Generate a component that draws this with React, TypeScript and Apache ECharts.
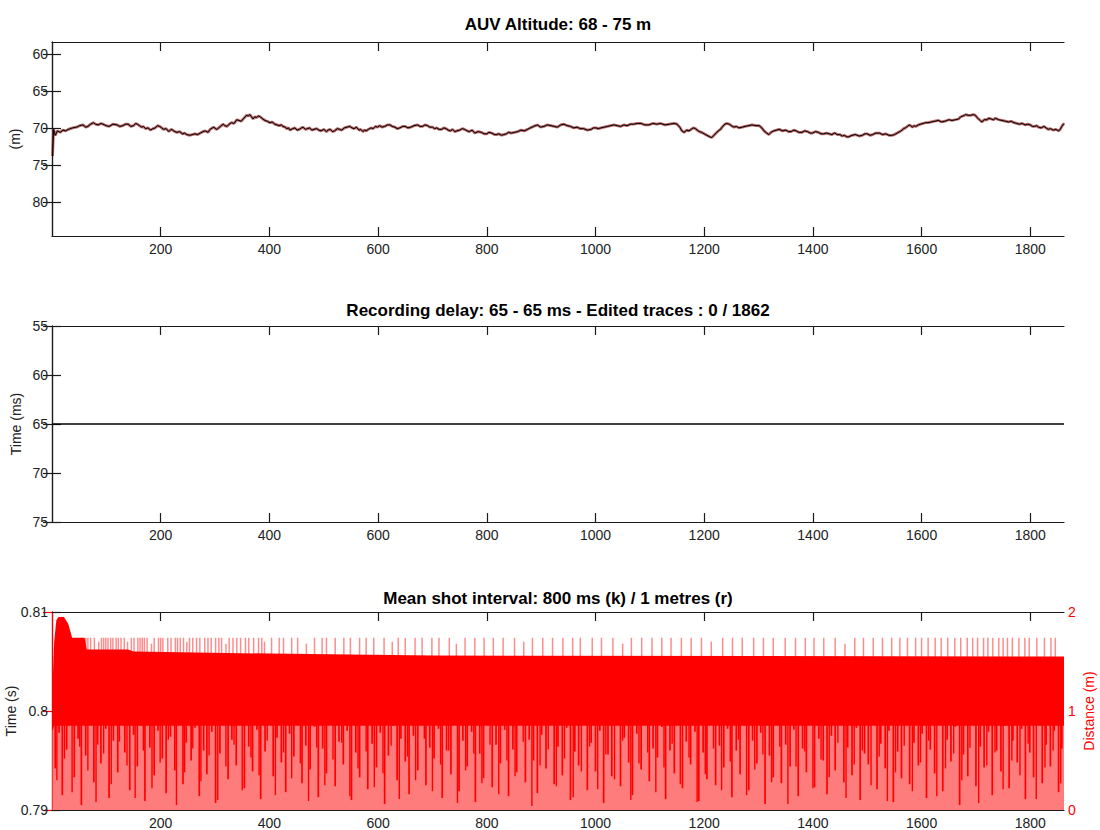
import React, { useEffect, useRef } from "react";
import * as echarts from "echarts";

// ---------- data ----------
const titles = [
  "AUV Altitude: 68 - 75 m",
  "Recording delay: 65 - 65 ms - Edited traces : 0 / 1862",
  "Mean shot interval: 800 ms (k) / 1 metres (r)",
];
const xTicks = [200, 400, 600, 800, 1000, 1200, 1400, 1600, 1800];
const altTicks = [60, 65, 70, 75, 80];
const delayTicks = [55, 60, 65, 70, 75];
const timeTicks = [0.79, 0.8, 0.81];
const distTicks = [0, 1, 2];

// AUV altitude (m) against trace number
const altX = [1, 3, 6, 10, 15, 20, 25, 30, 38, 45, 51, 57, 62, 66, 71, 76, 80, 85, 90, 94, 100, 105, 112, 120, 125, 130, 135, 140, 145, 150, 154, 157, 161, 165, 168, 172, 177, 181, 186, 190, 194, 198, 202, 205, 210, 215, 219, 222, 226, 230, 235, 240, 244, 248, 254, 258, 263, 268, 273, 278, 282, 287, 291, 295, 298, 302, 305, 310, 315, 318, 322, 326, 330, 335, 340, 344, 348, 353, 358, 361, 364, 367, 370, 373, 376, 380, 383, 388, 392, 396, 401, 405, 410, 414, 418, 422, 425, 429, 432, 435, 438, 443, 447, 451, 455, 459, 462, 466, 470, 474, 478, 482, 487, 491, 495, 500, 505, 508, 512, 516, 520, 525, 529, 533, 538, 543, 548, 552, 556, 560, 565, 568, 572, 575, 578, 582, 587, 591, 595, 599, 603, 607, 612, 617, 622, 626, 631, 635, 640, 645, 650, 655, 660, 666, 673, 677, 682, 686, 691, 695, 700, 704, 708, 712, 717, 721, 725, 729, 733, 737, 741, 745, 750, 755, 759, 764, 768, 773, 778, 784, 790, 795, 800, 804, 809, 814, 818, 822, 827, 831, 836, 840, 845, 851, 857, 863, 869, 875, 880, 886, 893, 899, 905, 911, 918, 924, 930, 936, 942, 948, 954, 960, 966, 972, 978, 985, 992, 996, 1001, 1005, 1010, 1016, 1022, 1028, 1034, 1040, 1046, 1052, 1058, 1064, 1070, 1077, 1084, 1091, 1098, 1105, 1113, 1120, 1128, 1136, 1145, 1150, 1155, 1159, 1163, 1168, 1172, 1176, 1180, 1184, 1187, 1191, 1195, 1200, 1205, 1210, 1214, 1218, 1222, 1226, 1230, 1234, 1238, 1242, 1246, 1250, 1255, 1259, 1264, 1270, 1275, 1282, 1288, 1295, 1301, 1306, 1310, 1315, 1319, 1323, 1328, 1333, 1338, 1344, 1350, 1355, 1360, 1365, 1369, 1374, 1380, 1385, 1390, 1395, 1399, 1405, 1410, 1415, 1420, 1425, 1430, 1435, 1440, 1445, 1450, 1454, 1458, 1462, 1466, 1472, 1478, 1485, 1491, 1496, 1500, 1505, 1510, 1516, 1522, 1528, 1534, 1540, 1546, 1550, 1555, 1560, 1564, 1567, 1570, 1574, 1577, 1580, 1583, 1586, 1589, 1594, 1598, 1603, 1607, 1612, 1618, 1624, 1631, 1637, 1643, 1650, 1656, 1662, 1668, 1672, 1676, 1679, 1681, 1686, 1690, 1695, 1699, 1702, 1705, 1708, 1711, 1715, 1720, 1724, 1728, 1732, 1736, 1742, 1748, 1754, 1760, 1765, 1770, 1775, 1780, 1785, 1791, 1795, 1800, 1804, 1808, 1812, 1815, 1820, 1825, 1829, 1833, 1837, 1842, 1847, 1852, 1855, 1858, 1862];
const altY = [73.8, 70.2, 71.0, 70.4, 70.6, 70.3, 70.4, 70.2, 70.0, 69.9, 69.7, 69.6, 69.9, 69.8, 69.5, 69.3, 69.5, 69.6, 69.4, 69.5, 69.7, 69.8, 69.5, 69.6, 69.8, 69.7, 69.5, 69.5, 69.8, 69.7, 69.4, 69.5, 69.7, 69.9, 69.8, 70.1, 70.0, 70.3, 70.1, 70.0, 69.7, 69.8, 70.0, 70.2, 70.1, 70.5, 70.2, 70.3, 70.5, 70.6, 70.5, 70.8, 70.7, 70.9, 71.0, 70.9, 70.8, 70.9, 70.7, 70.5, 70.4, 70.6, 70.2, 70.0, 69.9, 70.2, 70.1, 69.8, 69.5, 69.7, 69.8, 69.5, 69.3, 69.4, 68.9, 69.0, 69.1, 68.7, 68.3, 68.4, 68.2, 68.5, 68.8, 68.5, 68.6, 68.4, 68.5, 68.8, 69.0, 69.1, 69.3, 69.2, 69.5, 69.6, 69.7, 69.6, 69.8, 69.9, 70.1, 70.0, 70.3, 70.1, 70.0, 70.3, 70.2, 70.0, 69.9, 70.2, 70.1, 70.0, 70.3, 70.2, 70.1, 70.3, 70.4, 70.2, 70.5, 70.3, 70.2, 70.5, 70.4, 70.1, 70.2, 70.3, 70.0, 69.9, 69.8, 70.0, 70.1, 69.9, 70.3, 70.2, 70.5, 70.3, 70.4, 70.2, 70.0, 70.1, 69.8, 69.9, 69.7, 69.9, 69.8, 69.6, 69.6, 69.8, 69.9, 70.1, 70.0, 69.8, 69.8, 70.0, 69.9, 69.7, 69.6, 69.8, 69.8, 69.6, 69.7, 69.9, 69.9, 70.1, 70.0, 70.2, 70.2, 70.0, 70.1, 70.3, 70.4, 70.2, 70.5, 70.4, 70.3, 70.1, 70.2, 70.4, 70.5, 70.3, 70.7, 70.5, 70.6, 70.8, 70.8, 70.6, 70.7, 70.9, 70.9, 70.8, 71.0, 70.9, 70.8, 70.6, 70.7, 70.6, 70.5, 70.3, 70.4, 70.2, 70.0, 69.8, 69.6, 69.9, 69.8, 69.6, 69.7, 69.8, 69.9, 69.6, 69.5, 69.7, 69.8, 70.0, 69.9, 70.1, 70.1, 70.3, 70.2, 70.0, 70.0, 70.1, 70.0, 69.9, 69.8, 69.7, 69.6, 69.7, 69.8, 69.6, 69.7, 69.5, 69.5, 69.4, 69.4, 69.6, 69.6, 69.4, 69.5, 69.4, 69.6, 69.5, 69.4, 69.5, 69.9, 70.4, 70.6, 70.3, 70.4, 70.2, 70.0, 70.1, 70.3, 70.5, 70.6, 70.8, 71.0, 71.2, 71.3, 71.0, 70.7, 70.4, 70.2, 69.8, 69.5, 69.4, 69.5, 69.7, 69.9, 69.8, 70.0, 69.9, 69.8, 69.7, 69.6, 69.7, 69.7, 70.0, 70.4, 70.7, 70.9, 70.6, 70.4, 70.3, 70.2, 70.4, 70.3, 70.5, 70.5, 70.3, 70.4, 70.6, 70.6, 70.4, 70.5, 70.7, 70.7, 70.5, 70.6, 70.8, 70.8, 70.7, 70.8, 70.9, 70.7, 70.9, 70.9, 71.1, 71.0, 71.2, 71.2, 71.0, 70.9, 71.1, 71.0, 70.8, 70.8, 71.0, 70.9, 70.7, 70.7, 70.9, 70.8, 71.0, 71.0, 70.9, 70.7, 70.5, 70.3, 70.1, 70.0, 69.8, 69.6, 69.7, 69.9, 69.7, 69.8, 69.6, 69.5, 69.4, 69.3, 69.3, 69.2, 69.1, 69.0, 69.2, 69.1, 68.9, 69.0, 68.9, 68.8, 68.5, 68.4, 68.3, 68.2, 68.3, 68.3, 68.2, 68.3, 68.6, 68.8, 69.0, 69.2, 68.9, 68.9, 68.7, 68.8, 68.9, 68.7, 68.9, 69.0, 69.1, 69.2, 69.1, 69.3, 69.4, 69.5, 69.4, 69.6, 69.5, 69.6, 69.8, 69.8, 69.7, 69.9, 70.0, 69.8, 70.0, 70.2, 70.1, 70.3, 70.2, 70.4, 70.2, 69.8, 69.4];

// Recording delay (ms)
const delayX = [1, 1862];
const delayY = [65, 65];

// Shot distance (m): solid band envelope
const bandX = [1, 4, 8, 12, 22, 30, 34, 37, 60, 64, 140, 150, 400, 700, 1862];
const bandTop = [1.25, 1.7, 1.92, 1.95, 1.95, 1.88, 1.8, 1.74, 1.74, 1.62, 1.62, 1.6, 1.58, 1.56, 1.55];
const bandBottom = [0.8, 0.85, 0.85, 0.85, 0.85, 0.85, 0.85, 0.85, 0.85, 0.85, 0.85, 0.85, 0.85, 0.85, 0.85];

// upward excursions above the band: [trace, distance]
const upSpikes = [[42, 1.74], [48, 1.74], [55, 1.74], [62, 1.74], [66, 1.74], [71, 1.74], [78, 1.74], [86, 1.7], [91, 1.74], [95, 1.74], [99, 1.74], [103, 1.74], [108, 1.74], [112, 1.74], [118, 1.74], [122, 1.74], [127, 1.74], [133, 1.74], [139, 1.7], [146, 1.74], [151, 1.74], [158, 1.74], [162, 1.74], [166, 1.74], [170, 1.74], [175, 1.74], [183, 1.68], [188, 1.74], [196, 1.74], [200, 1.74], [204, 1.74], [213, 1.74], [219, 1.74], [227, 1.74], [231, 1.74], [236, 1.74], [242, 1.74], [248, 1.7], [253, 1.74], [259, 1.74], [266, 1.74], [272, 1.74], [281, 1.74], [287, 1.74], [293, 1.74], [301, 1.74], [307, 1.74], [312, 1.74], [320, 1.68], [326, 1.74], [333, 1.74], [340, 1.74], [347, 1.74], [356, 1.74], [362, 1.74], [371, 1.74], [380, 1.74], [386, 1.74], [391, 1.7], [404, 1.74], [418, 1.74], [426, 1.74], [441, 1.74], [452, 1.74], [468, 1.68], [483, 1.74], [497, 1.74], [505, 1.74], [521, 1.74], [537, 1.74], [549, 1.74], [566, 1.74], [578, 1.74], [592, 1.74], [611, 1.74], [626, 1.7], [637, 1.74], [650, 1.74], [668, 1.74], [681, 1.74], [699, 1.74], [712, 1.74], [731, 1.74], [744, 1.68], [760, 1.74], [778, 1.74], [795, 1.74], [812, 1.74], [830, 1.74], [851, 1.74], [868, 1.7], [884, 1.74], [903, 1.74], [921, 1.74], [940, 1.74], [958, 1.74], [972, 1.74], [994, 1.74], [1011, 1.74], [1032, 1.74], [1050, 1.68], [1066, 1.74], [1085, 1.74], [1104, 1.74], [1122, 1.74], [1139, 1.74], [1158, 1.74], [1176, 1.74], [1195, 1.74], [1213, 1.7], [1234, 1.74], [1252, 1.74], [1270, 1.74], [1291, 1.74], [1309, 1.74], [1327, 1.74], [1349, 1.74], [1368, 1.74], [1386, 1.74], [1402, 1.74], [1420, 1.74], [1441, 1.74], [1459, 1.68], [1477, 1.74], [1493, 1.74], [1511, 1.74], [1528, 1.74], [1545, 1.74], [1560, 1.74], [1574, 1.74], [1589, 1.74], [1600, 1.74], [1612, 1.74], [1625, 1.74], [1636, 1.74], [1648, 1.74], [1661, 1.74], [1672, 1.74], [1684, 1.74], [1694, 1.74], [1703, 1.74], [1714, 1.74], [1722, 1.74], [1731, 1.74], [1742, 1.74], [1750, 1.74], [1758, 1.74], [1767, 1.74], [1779, 1.74], [1790, 1.74], [1798, 1.74], [1812, 1.74], [1826, 1.74], [1838, 1.74], [1846, 1.74]];

// downward excursions below the band: [trace, distance]
const downSpikes = [[6, 0.42], [13, 0.78], [19, 0.15], [27, 0.61], [33, 0.88], [41, 0.33], [48, 0.72], [54, 0.05], [62, 0.55], [69, 0.9], [77, 0.28], [84, 0.66], [90, 0.47], [99, 0.82], [105, 0.12], [113, 0.7], [121, 0.38], [128, 0.93], [134, 0.58], [143, 0.2], [150, 0.76], [157, 0.44], [165, 0.85], [171, 0.09], [180, 0.63], [188, 0.35], [195, 0.8], [203, 0.52], [210, 0.17], [218, 0.74], [226, 0.4], [233, 0.9], [241, 0.26], [247, 0.68], [256, 0.5], [263, 0.83], [271, 0.14], [279, 0.6], [285, 0.36], [294, 0.79], [301, 0.07], [309, 0.57], [316, 0.86], [324, 0.31], [331, 0.71], [339, 0.45], [346, 0.92], [354, 0.22], [362, 0.64], [369, 0.39], [377, 0.81], [384, 0.11], [392, 0.59], [399, 0.87], [407, 0.34], [414, 0.73], [422, 0.48], [430, 0.18], [437, 0.77], [445, 0.54], [452, 0.89], [460, 0.27], [467, 0.65], [475, 0.41], [483, 0.84], [490, 0.13], [498, 0.62], [505, 0.37], [513, 0.91], [521, 0.24], [528, 0.69], [536, 0.46], [543, 0.8], [551, 0.1], [559, 0.58], [566, 0.33], [574, 0.88], [581, 0.21], [589, 0.67], [597, 0.43], [604, 0.78], [612, 0.06], [619, 0.55], [627, 0.85], [635, 0.3], [642, 0.72], [650, 0.49], [657, 0.16], [665, 0.75], [673, 0.4], [680, 0.9], [688, 0.25], [695, 0.63], [703, 0.52], [711, 0.82], [718, 0.12], [726, 0.6], [734, 0.36], [741, 0.87], [749, 0.19], [756, 0.7], [764, 0.44], [772, 0.79], [779, 0.08], [787, 0.57], [794, 0.32], [802, 0.93], [810, 0.23], [817, 0.66], [825, 0.47], [833, 0.81], [840, 0.14], [848, 0.61], [855, 0.38], [863, 0.86], [871, 0.28], [878, 0.71], [886, 0.5], [893, 0.17], [901, 0.76], [909, 0.42], [916, 0.89], [924, 0.26], [931, 0.64], [939, 0.35], [947, 0.83], [954, 0.1], [962, 0.59], [969, 0.45], [977, 0.91], [985, 0.2], [992, 0.68], [1000, 0.39], [1008, 0.8], [1015, 0.07], [1023, 0.56], [1030, 0.34], [1038, 0.87], [1046, 0.24], [1053, 0.73], [1061, 0.48], [1068, 0.15], [1076, 0.77], [1084, 0.41], [1091, 0.9], [1099, 0.29], [1106, 0.62], [1114, 0.53], [1122, 0.84], [1129, 0.11], [1137, 0.6], [1145, 0.37], [1152, 0.88], [1160, 0.22], [1167, 0.69], [1175, 0.46], [1183, 0.79], [1190, 0.09], [1198, 0.58], [1205, 0.31], [1213, 0.92], [1221, 0.25], [1228, 0.65], [1236, 0.43], [1243, 0.82], [1251, 0.13], [1259, 0.6], [1266, 0.36], [1274, 0.85], [1282, 0.2], [1289, 0.7], [1297, 0.47], [1304, 0.78], [1312, 0.06], [1320, 0.55], [1327, 0.33], [1335, 0.89], [1342, 0.27], [1350, 0.66], [1358, 0.44], [1365, 0.81], [1373, 0.14], [1381, 0.62], [1388, 0.38], [1396, 0.86], [1403, 0.23], [1411, 0.72], [1419, 0.5], [1426, 0.16], [1434, 0.75], [1441, 0.4], [1449, 0.9], [1457, 0.28], [1464, 0.63], [1472, 0.35], [1480, 0.83], [1487, 0.1], [1495, 0.57], [1502, 0.46], [1510, 0.88], [1518, 0.21], [1525, 0.67], [1533, 0.42], [1540, 0.8], [1548, 0.08], [1556, 0.59], [1563, 0.32], [1571, 0.91], [1578, 0.26], [1586, 0.68], [1594, 0.45], [1601, 0.77], [1609, 0.12], [1616, 0.61], [1624, 0.37], [1632, 0.87], [1639, 0.19], [1647, 0.71], [1654, 0.49], [1662, 0.84], [1670, 0.05], [1677, 0.56], [1685, 0.34], [1692, 0.9], [1700, 0.24], [1708, 0.64], [1715, 0.43], [1723, 0.79], [1730, 0.15], [1738, 0.6], [1746, 0.39], [1753, 0.85], [1761, 0.22], [1768, 0.7], [1776, 0.48], [1784, 0.82], [1791, 0.11], [1799, 0.58], [1806, 0.33], [1814, 0.89], [1822, 0.27], [1829, 0.66], [1837, 0.44], [1844, 0.8], [1852, 0.18], [1858, 0.62]];
const downSpikes2 = [[9, 0.3], [23, 0.52], [37, 0.18], [51, 0.64], [66, 0.4], [81, 0.08], [95, 0.57], [109, 0.26], [124, 0.69], [138, 0.45], [153, 0.12], [168, 0.6], [184, 0.22], [199, 0.48], [214, 0.71], [229, 0.05], [244, 0.38], [259, 0.62], [274, 0.29], [289, 0.55], [305, 0.1], [320, 0.44], [335, 0.66], [350, 0.2], [366, 0.53], [381, 0.35], [396, 0.7], [411, 0.15], [426, 0.58], [441, 0.32], [457, 0.47], [472, 0.09], [487, 0.63], [502, 0.25], [517, 0.51], [533, 0.68], [548, 0.14], [563, 0.42], [578, 0.59], [593, 0.23], [609, 0.37], [624, 0.65], [639, 0.11], [654, 0.54], [669, 0.3], [685, 0.72], [700, 0.19], [715, 0.46], [730, 0.6], [746, 0.07], [761, 0.4], [776, 0.57], [791, 0.27], [806, 0.66], [822, 0.16], [837, 0.5], [852, 0.34], [867, 0.69], [883, 0.04], [898, 0.45], [913, 0.61], [928, 0.24], [943, 0.52], [959, 0.13], [974, 0.39], [989, 0.64], [1004, 0.21], [1019, 0.56], [1035, 0.31], [1050, 0.7], [1065, 0.1], [1080, 0.47], [1096, 0.58], [1111, 0.18], [1126, 0.43], [1141, 0.67], [1156, 0.26], [1172, 0.53], [1187, 0.08], [1202, 0.36], [1217, 0.62], [1232, 0.2], [1248, 0.49], [1263, 0.71], [1278, 0.15], [1293, 0.41], [1308, 0.56], [1324, 0.28], [1339, 0.64], [1354, 0.06], [1369, 0.44], [1385, 0.59], [1400, 0.22], [1415, 0.51], [1430, 0.33], [1446, 0.68], [1461, 0.12], [1476, 0.46], [1491, 0.6], [1507, 0.25], [1522, 0.54], [1537, 0.09], [1552, 0.38], [1568, 0.65], [1583, 0.19], [1598, 0.48], [1613, 0.7], [1628, 0.14], [1644, 0.42], [1659, 0.57], [1674, 0.3], [1689, 0.63], [1705, 0.07], [1720, 0.45], [1735, 0.58], [1750, 0.21], [1766, 0.5], [1781, 0.35], [1796, 0.67], [1811, 0.11], [1827, 0.43], [1842, 0.6], [1856, 0.27]];

// ---------- styling ----------
const FONT = "'Liberation Sans', Arial, Helvetica, sans-serif";
const AX = "#1a1a1a";
const RED = "#ff0000";
const PINK = "#ff7c7c";
const grids = [
  { left: 52, right: 36, top: 42, height: 194, outerBoundsMode: "none", containLabel: false },
  { left: 52, right: 36, top: 326, height: 196, outerBoundsMode: "none", containLabel: false },
  { left: 52, right: 36, top: 612, height: 198, outerBoundsMode: "none", containLabel: false },
];
const plain = (v: number) => String(v);

function xAxes(gi: number) {
  const base = {
    gridIndex: gi,
    type: "value",
    min: 0,
    max: 1862,
    axisLine: { show: true, lineStyle: { color: AX, width: 1.2 } },
    splitLine: { show: false },
    axisTick: { show: true, inside: true, length: 9, customValues: xTicks, lineStyle: { color: AX, width: 1.2 } },
  };
  return [
    {
      ...base,
      position: "bottom",
      axisLabel: { show: true, customValues: xTicks, formatter: plain, color: "#222", fontSize: 14, fontFamily: FONT, margin: 6 },
    },
    { ...base, position: "top", axisLabel: { show: false } },
  ];
}

function yAxisPair(gi: number, min: number, max: number, ticks: number[], inverse: boolean, name: string, nameGap: number, fmt: (v: number) => string) {
  const tick = { show: true, inside: true, length: 9, customValues: ticks, lineStyle: { color: AX, width: 1.2 } };
  return [
    {
      gridIndex: gi,
      type: "value",
      min,
      max,
      inverse,
      position: "left",
      name,
      nameLocation: "middle",
      nameGap,
      nameMoveOverlap: false,
      nameTextStyle: { color: "#222", fontSize: 14, fontFamily: FONT },
      axisLine: { show: true, lineStyle: { color: AX, width: 1.2 } },
      splitLine: { show: false },
      axisTick: tick,
      axisLabel: { show: true, customValues: ticks, color: "#222", fontSize: 14, fontFamily: FONT, margin: 4, formatter: fmt },
    },
    {
      gridIndex: gi,
      type: "value",
      min,
      max,
      inverse,
      position: "right",
      axisLine: { show: true, lineStyle: { color: AX, width: 1.2 } },
      splitLine: { show: false },
      axisTick: tick,
      axisLabel: { show: false },
    },
  ];
}

export default function App() {
  const ref = useRef<HTMLDivElement>(null);
  useEffect(() => {
    document.body.style.margin = "0";
    if (!ref.current) return;
    const chart = echarts.init(ref.current, undefined, { renderer: "svg" });

    const xAxis = [...xAxes(0), ...xAxes(1), ...xAxes(2)];
    const yAxis = [
      ...yAxisPair(0, 58.4, 84.6, altTicks, true, "(m)", 30, plain),
      ...yAxisPair(1, 55, 75, delayTicks, true, "Time (ms)", 29, plain),
      yAxisPair(2, 0.79, 0.81, timeTicks, false, "Time (s)", 34, (v: number) => String(Math.round(v * 100) / 100))[0],
      {
        gridIndex: 2,
        type: "value",
        min: 0,
        max: 2,
        position: "right",
        name: "Distance (m)",
        nameLocation: "middle",
        nameGap: 18,
        nameRotate: 90,
        nameMoveOverlap: false,
        nameTextStyle: { color: RED, fontSize: 14, fontFamily: FONT },
        axisLine: { show: true, lineStyle: { color: RED, width: 1.2 } },
        splitLine: { show: false },
        axisTick: { show: true, inside: true, length: 9, customValues: distTicks, lineStyle: { color: RED, width: 1.2 } },
        axisLabel: { show: true, customValues: distTicks, formatter: plain, color: RED, fontSize: 14, fontFamily: FONT, margin: 4 },
      },
    ];

    const spikeRender = (color: string, width: number) => (params: any, api: any) => {
      const x = api.value(0);
      const p0 = api.coord([x, api.value(1)]);
      const p1 = api.coord([x, api.value(2)]);
      return {
        type: "line",
        shape: { x1: p0[0], y1: p0[1], x2: p1[0], y2: p1[1] },
        style: { stroke: color, lineWidth: width },
      };
    };

    const option = {
      animation: false,
      backgroundColor: "#ffffff",
      title: titles.map((t, i) => ({
        text: t,
        left: 558,
        textAlign: "center",
        top: [16, 302, 590][i],
        padding: 0,
        textStyle: { fontSize: 17, fontWeight: "bold", color: "#000", fontFamily: FONT },
      })),
      grid: grids,
      xAxis,
      yAxis,
      series: [
        {
          type: "line",
          xAxisIndex: 0,
          yAxisIndex: 0,
          data: altX.map((x, i) => [x, altY[i]]),
          showSymbol: false,
          lineStyle: { color: "#9a2a2a", width: 2.8, opacity: 0.7 },
          z: 2,
        },
        {
          type: "line",
          xAxisIndex: 0,
          yAxisIndex: 0,
          data: altX.map((x, i) => [x, altY[i]]),
          showSymbol: false,
          lineStyle: { color: "#000", width: 1 },
          z: 3,
        },
        {
          type: "line",
          xAxisIndex: 2,
          yAxisIndex: 2,
          data: delayX.map((x, i) => [x, delayY[i]]),
          showSymbol: false,
          lineStyle: { color: "#000", width: 1.5 },
        },
        {
          type: "line",
          xAxisIndex: 4,
          yAxisIndex: 5,
          data: bandX.map((x, i) => [x, bandTop[i]]),
          showSymbol: false,
          lineStyle: { width: 0 },
          areaStyle: { color: RED, opacity: 1 },
          z: 2,
        },
        {
          type: "custom",
          xAxisIndex: 4,
          yAxisIndex: 5,
          data: upSpikes.map(([x, v]) => [x, 1.5, v]),
          encode: { x: 0, y: [1, 2] },
          renderItem: spikeRender("rgba(255,0,0,0.45)", 1.5),
          clip: true,
          z: 3,
        },
        {
          type: "line",
          xAxisIndex: 4,
          yAxisIndex: 5,
          data: bandX.map((x, i) => [x, bandBottom[i]]),
          showSymbol: false,
          lineStyle: { width: 0 },
          areaStyle: { color: PINK, opacity: 1 },
          z: 4,
        },
        {
          type: "custom",
          xAxisIndex: 4,
          yAxisIndex: 5,
          data: downSpikes.map(([x, v]) => [x, 1.0, v]),
          encode: { x: 0, y: [1, 2] },
          renderItem: spikeRender(RED, 1.7),
          clip: true,
          z: 5,
        },
        {
          type: "custom",
          xAxisIndex: 4,
          yAxisIndex: 5,
          data: downSpikes2.map(([x, v]) => [x, 1.0, v]),
          encode: { x: 0, y: [1, 2] },
          renderItem: spikeRender(RED, 1.4),
          clip: true,
          z: 5,
        },
      ],
    };
    chart.setOption(option as any);
    return () => chart.dispose();
  }, []);
  return <div ref={ref} style={{ width: 1100, height: 830 }} />;
}
